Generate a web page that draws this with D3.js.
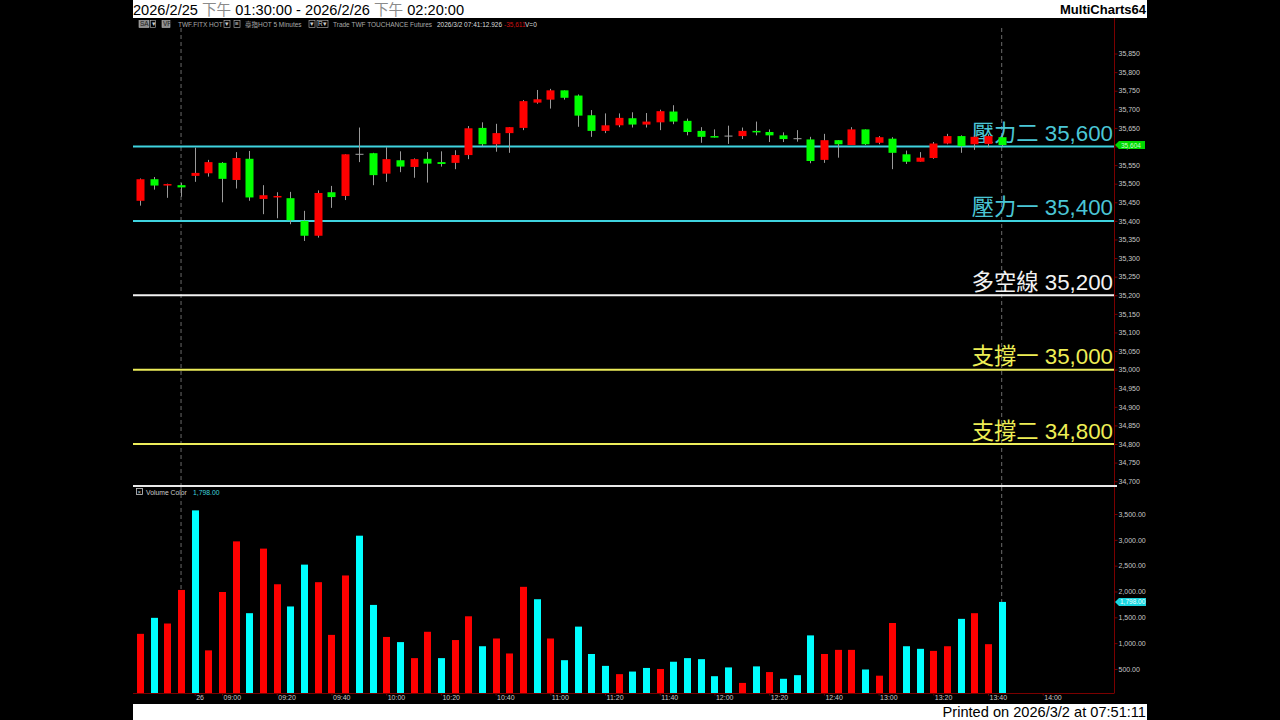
<!DOCTYPE html>
<html><head><meta charset="utf-8">
<script src="https://cdn.jsdelivr.net/npm/d3@7"></script>
<style>
html,body{margin:0;padding:0;background:#000;}
svg{display:block;}
</style></head>
<body>
<svg id="c" width="1280" height="720"></svg>
<script>
// ---------------- DATA ----------------
const barTimes = ["13:30","13:35","13:40","13:45",
 "08:50","08:55","09:00","09:05","09:10","09:15","09:20","09:25","09:30","09:35","09:40","09:45",
 "09:50","09:55","10:00","10:05","10:10","10:15","10:20","10:25","10:30","10:35","10:40","10:45",
 "10:50","10:55","11:00","11:05","11:10","11:15","11:20","11:25","11:30","11:35","11:40","11:45",
 "11:50","11:55","12:00","12:05","12:10","12:15","12:20","12:25","12:30","12:35","12:40","12:45",
 "12:50","12:55","13:00","13:05","13:10","13:15","13:20","13:25","13:30","13:35","13:40","13:45"];
const opens  = [35454,35512,35495,35496,35521,35528,35556,35510,35567,35459,35463,35461,35400,35360,35477,35467,
 35579,35582,35527,35563,35545,35567,35558,35556,35577,35650,35606,35636,35650,35718,35726,35751,
 35737,35684,35642,35657,35676,35659,35665,35694,35669,35642,35628,35628,35628,35642,35639,35630,
 35621,35619,35564,35617,35604,35646,35610,35621,35579,35559,35569,35608,35628,35606,35607,35625];
const highs  = [35514,35518,35500,35502,35597,35564,35558,35585,35588,35496,35477,35478,35427,35482,35494,35579,
 35651,35583,35598,35587,35568,35585,35587,35590,35655,35665,35661,35652,35725,35752,35755,35751,
 35740,35698,35689,35689,35692,35690,35699,35711,35675,35652,35646,35656,35651,35667,35646,35638,
 35644,35626,35634,35617,35652,35646,35628,35625,35589,35585,35612,35634,35630,35630,35633,35628];
const lows   = [35441,35484,35462,35465,35505,35519,35450,35487,35454,35418,35407,35391,35346,35355,35435,35456,
 35558,35496,35505,35531,35516,35503,35546,35539,35566,35601,35586,35583,35644,35715,35702,35726,
 35653,35626,35636,35652,35651,35651,35644,35660,35630,35610,35624,35607,35620,35630,35612,35612,
 35613,35555,35556,35570,35604,35604,35606,35539,35553,35559,35567,35606,35583,35591,35598,35600];
const closes = [35512,35495,35499,35490,35529,35558,35513,35569,35463,35469,35467,35402,35360,35475,35464,35579,
 35579,35523,35566,35546,35566,35554,35553,35577,35649,35606,35636,35652,35722,35727,35751,35731,
 35683,35642,35657,35677,35659,35667,35695,35667,35639,35626,35624,35628,35642,35640,35630,35620,
 35621,35561,35617,35606,35646,35606,35625,35583,35559,35570,35608,35628,35601,35626,35628,35604];
const volumes = [1180,1490,1380,2030,3570,860,1990,2970,1580,2830,2140,1710,2520,2180,1160,2310,
 3080,1740,1120,1020,710,1220,710,1060,1520,940,1090,800,2090,1850,1090,670,
 1320,790,560,400,450,520,500,640,710,690,360,530,230,550,440,310,
 380,1150,790,870,870,490,370,1390,940,890,850,940,1470,1580,980,1798];
// 1 = red (up volume), 0 = cyan (down volume)
const volUp = [1,0,1,1,0,1,1,1,0,1,1,0,0,1,1,1,0,0,1,0,1,1,0,1,1,0,1,1,1,0,1,0,
 0,0,0,1,0,0,1,0,0,0,0,0,1,0,1,0,0,0,1,1,1,0,1,1,0,0,1,1,0,1,1,0];
const xTickIdx    = [4,6,10,14,18,22,26,30,34,38,42,46,50,54,58,62,66];
const xTickLabels = ["26","09:00","09:20","09:40","10:00","10:20","10:40","11:00","11:20","11:40","12:00","12:20","12:40","13:00","13:20","13:40","14:00"];
const sessionBreakIdx = [3,63];
const levelValues = [35600,35400,35200,35000,34800];
const levelNames  = ["壓力二","壓力一","多空線","支撐一","支撐二"];
const priceTicks  = d3.range(34700, 35851, 50);
const volTicks    = [500,1000,1500,2000,2500,3000,3500];
const lastPrice = 35604, lastVolume = 1798;

// ---------------- LAYOUT ----------------
const svg = d3.select("#c");
const L = 133, R = 1114, FR = 1147;
const pTop = 18, pBot = 485, vTop = 487, vBot = 693;
const FONT = "'Liberation Sans', Arial, 'Noto Sans CJK TC', sans-serif";

const x  = d3.scaleLinear().domain([0, 63]).range([140, 1001.7]);
const yP = d3.scaleLinear().domain([34800, 35600]).range([444, 146.5]);
const yV = d3.scaleLinear().domain([0, 3500]).range([694.8, 514]);

// background
svg.append("rect").attr("x",0).attr("y",0).attr("width",1280).attr("height",720).attr("fill","#000");
// header
svg.append("rect").attr("x",L).attr("y",0).attr("width",FR-L).attr("height",18).attr("fill","#fff");
const title = svg.append("text").attr("x",L).attr("y",15).attr("font-family",FONT).attr("font-size",14.6).attr("fill","#000");
title.append("tspan").text("2026/2/25 ");
title.append("tspan").attr("fill","#8a8a8a").text("下午");
title.append("tspan").text(" 01:30:00 - 2026/2/26 ");
title.append("tspan").attr("fill","#8a8a8a").text("下午");
title.append("tspan").text(" 02:20:00");
svg.append("text").attr("x",FR-1).attr("y",14).attr("text-anchor","end").attr("font-family",FONT)
  .attr("font-size",13).attr("font-weight","bold").attr("fill","#000").text("MultiCharts64");
// footer
svg.append("rect").attr("x",L).attr("y",704).attr("width",FR-L).attr("height",16).attr("fill","#fff");
svg.append("text").attr("x",FR-1).attr("y",717).attr("text-anchor","end").attr("font-family",FONT)
  .attr("font-size",14.6).attr("fill","#000").text("Printed on 2026/3/2 at 07:51:11");

// toolbar
const tb = svg.append("g").attr("font-family",FONT).attr("font-size",6.5);
function box(x0,w,label,fill,tcol){
  tb.append("rect").attr("x",x0).attr("y",20.5).attr("width",w).attr("height",7).attr("fill",fill).attr("stroke","#bbb").attr("stroke-width",0.6);
  if(label) tb.append("text").attr("x",x0+1).attr("y",26.3).attr("fill",tcol).text(label);
}
box(139,10,"SA","#8a8a8a","#222"); box(150.5,5,"▾","#000","#ccc");
box(162,8,"VP","#8a8a8a","#222");
tb.append("text").attr("x",178).attr("y",26.5).attr("fill","#aaa").text("TWF.FITX HOT");
box(224,6,"▾","#000","#ccc"); box(234,6,"≡","#000","#ccc");
tb.append("text").attr("x",245).attr("y",26.5).attr("fill","#aaa").text("臺指HOT  5 Minutes");
box(309,6,"▾","#000","#ccc"); box(317,11,"R▾","#000","#ccc");
tb.append("text").attr("x",333).attr("y",26.5).attr("fill","#aaa").text("Trade  TWF  TOUCHANCE  Futures");
tb.append("text").attr("x",437).attr("y",26.5).attr("fill","#ddd").text("2026/3/2  07:41:12.926");
tb.append("text").attr("x",504).attr("y",26.5).attr("fill","#d01010").text("-35,611");
tb.append("text").attr("x",525).attr("y",26.5).attr("fill","#ddd").text("V=0");

// session break dashed lines
sessionBreakIdx.forEach(i=>{
  [[pTop+10,pBot],[vTop,vBot]].forEach(([a,b])=>{
    svg.append("line").attr("x1",x(i)).attr("x2",x(i)).attr("y1",a).attr("y2",b)
      .attr("stroke","#6a6a6a").attr("stroke-width",1).attr("stroke-dasharray","4,3");
  });
});

// level lines + labels
const levelColors = ["#3fd3df","#3fd3df","#f2f2f2","#eded5a","#eded5a"];
const levelText   = ["#4bc6d6","#4bc6d6","#f2f2f2","#eeee55","#eeee55"];
levelValues.forEach((v,k)=>{
  svg.append("line").attr("x1",L).attr("x2",R).attr("y1",yP(v)).attr("y2",yP(v))
    .attr("stroke",levelColors[k]).attr("stroke-width",2);
  svg.append("text").attr("x",R-1).attr("y",yP(v)-5.5).attr("text-anchor","end")
    .attr("font-family",FONT).attr("font-size",22.3).attr("fill",levelText[k])
    .text(levelNames[k]+" "+d3.format(",")(v));
});

// candles
const bw = 8;
const cg = svg.append("g");
barTimes.forEach((t,i)=>{
  const o=opens[i], c=closes[i], h=highs[i], l=lows[i];
  const col = c>o ? "#ff0000" : (c<o ? "#00ff00" : "#a0a0a0");
  const cx = Math.round(x(i))+0.5;
  cg.append("line").attr("x1",cx).attr("x2",cx).attr("y1",yP(h)).attr("y2",yP(l)).attr("stroke","#9a9a9a").attr("stroke-width",1);
  if(c===o){
    cg.append("line").attr("x1",cx-bw/2).attr("x2",cx+bw/2).attr("y1",yP(o)).attr("y2",yP(o)).attr("stroke","#a0a0a0").attr("stroke-width",1);
  } else {
    const top = yP(Math.max(o,c)), bot = yP(Math.min(o,c));
    cg.append("rect").attr("x",cx-bw/2).attr("y",top).attr("width",bw).attr("height",Math.max(1.5,bot-top)).attr("fill",col);
  }
});

// price axis
svg.append("line").attr("x1",R+0.5).attr("x2",R+0.5).attr("y1",pTop).attr("y2",pBot).attr("stroke","#7a0000").attr("stroke-width",1);
const pAx = svg.append("g").attr("transform",`translate(${R+0.5},0)`)
  .call(d3.axisRight(yP).tickValues(priceTicks).tickFormat(d3.format(",")).tickSize(3).tickPadding(1));
pAx.select(".domain").remove();
pAx.selectAll("line").attr("stroke","#7a0000");
pAx.selectAll("text").attr("font-family",FONT).attr("font-size",7).attr("fill","#c8c8c8");

// last price tag
const tagY = yP(lastPrice);
svg.append("path").attr("d",`M${R+1},${tagY} L${R+5},${tagY-4} L${R+31},${tagY-4} L${R+31},${tagY+4} L${R+5},${tagY+4} Z`).attr("fill","#00d800");
svg.append("text").attr("x",R+7).attr("y",tagY+2.5).attr("font-family",FONT).attr("font-size",6.5).attr("fill","#c8ffc8").text(d3.format(",")(lastPrice));

// separator
svg.append("line").attr("x1",L).attr("x2",R+3).attr("y1",pBot+1).attr("y2",pBot+1).attr("stroke","#e8e8e8").attr("stroke-width",2);

// volume header
svg.append("rect").attr("x",136.5).attr("y",488.5).attr("width",6).attr("height",6).attr("fill","none").attr("stroke","#ccc").attr("stroke-width",0.8);
svg.append("text").attr("x",137.6).attr("y",494).attr("font-family",FONT).attr("font-size",6).attr("fill","#ccc").text("×");
svg.append("text").attr("x",146).attr("y",494.5).attr("font-family",FONT).attr("font-size",6.8).attr("fill","#ccc").text("Volume Color");
svg.append("text").attr("x",193).attr("y",494.5).attr("font-family",FONT).attr("font-size",6.8).attr("fill","#3fd3df").text(d3.format(",.2f")(lastVolume));

// volume bars
const vb = 7;
svg.append("g").selectAll("rect").data(volumes).join("rect")
  .attr("x",(d,i)=>Math.round(x(i))+0.5-vb/2)
  .attr("y",d=>yV(d)).attr("width",vb).attr("height",d=>vBot-yV(d))
  .attr("fill",(d,i)=>volUp[i]?"#ff0000":"#00ffff");

// volume axis
svg.append("line").attr("x1",R+0.5).attr("x2",R+0.5).attr("y1",vTop).attr("y2",vBot).attr("stroke","#7a0000");
svg.append("line").attr("x1",L).attr("x2",R+0.5).attr("y1",vBot+0.5).attr("y2",vBot+0.5).attr("stroke","#7a0000");
const vAx = svg.append("g").attr("transform",`translate(${R+0.5},0)`)
  .call(d3.axisRight(yV).tickValues(volTicks).tickFormat(d3.format(",.2f")).tickSize(3).tickPadding(1));
vAx.select(".domain").remove();
vAx.selectAll("line").attr("stroke","#7a0000");
vAx.selectAll("text").attr("font-family",FONT).attr("font-size",7).attr("fill","#c8c8c8");
// last volume tag
const vtY = yV(lastVolume);
svg.append("path").attr("d",`M${R+1},${vtY} L${R+5},${vtY-4} L${R+32},${vtY-4} L${R+32},${vtY+4} L${R+5},${vtY+4} Z`).attr("fill","#19d6e0");
svg.append("text").attr("x",R+6).attr("y",vtY+2.5).attr("font-family",FONT).attr("font-size",6.5).attr("fill","#f0ffff").text(d3.format(",.2f")(lastVolume));

// x axis
const xAx = svg.append("g").attr("transform",`translate(0,${vBot+0.5})`)
  .call(d3.axisBottom(x).tickValues(xTickIdx).tickFormat((d,k)=>xTickLabels[k]).tickSize(2).tickPadding(1));
xAx.select(".domain").remove();
xAx.selectAll("line").attr("stroke","#7a0000");
xAx.selectAll("text").attr("font-family",FONT).attr("font-size",7).attr("fill","#c8c8c8")
  .attr("text-anchor","start").attr("dx",1).attr("dy","0.55em");
</script>
</body></html>
